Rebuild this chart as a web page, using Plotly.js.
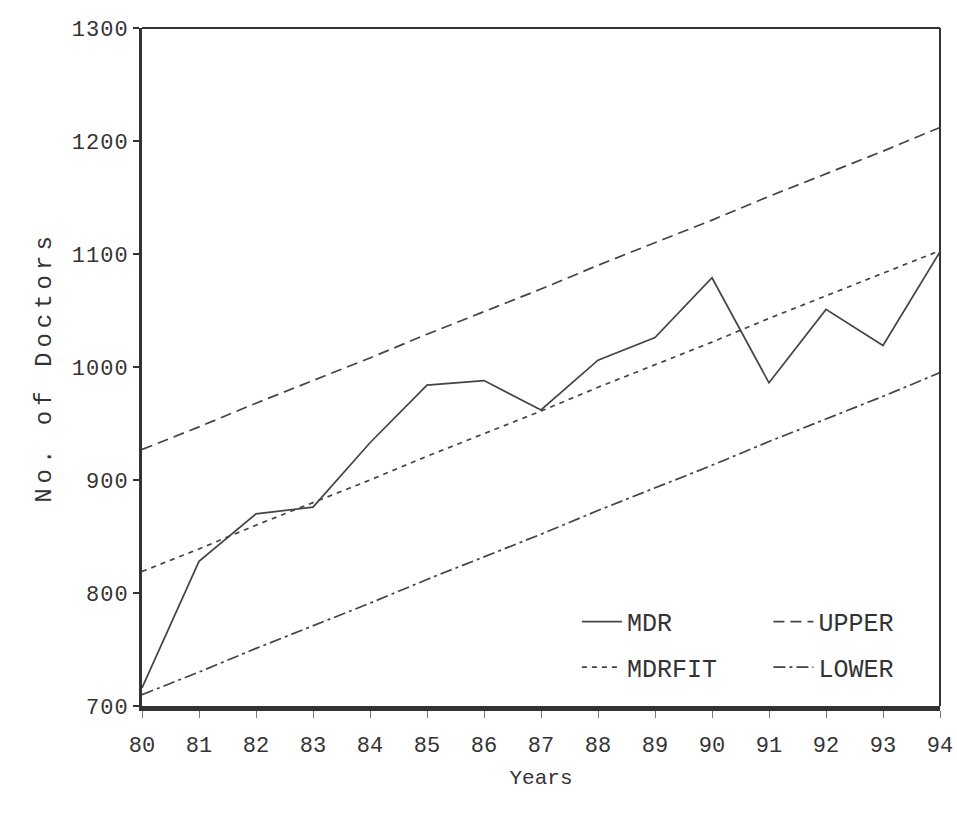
<!DOCTYPE html>
<html>
<head>
<meta charset="utf-8">
<script src="https://cdn.plot.ly/plotly-3.0.1.min.js"></script>
<style>
html,body{margin:0;padding:0;background:#fff;}
#chart{width:957px;height:817px;}
.ytitle{letter-spacing:5px;}
.ytick text{letter-spacing:1px;}
</style>
</head>
<body>
<div id="chart"></div>
<script>
var years = [80, 81, 82, 83, 84, 85, 86, 87, 88, 89, 90, 91, 92, 93, 94];
var mdr    = [716, 828, 870, 876, 933, 984, 988, 962, 1006, 1026, 1079, 986, 1051, 1019, 1102];
var mdrfit = [819, 839, 860, 880, 900, 921, 941, 961, 982, 1002, 1022, 1043, 1063, 1083, 1103];
var upper  = [927, 947, 968, 988, 1008, 1029, 1049, 1069, 1090, 1110, 1130, 1151, 1171, 1191, 1212];
var lower  = [710, 730, 751, 771, 791, 812, 832, 852, 873, 893, 913, 934, 954, 974, 995];
var yTicks = [700, 800, 900, 1000, 1100, 1200, 1300];

var FONT = "Liberation Mono, DejaVu Sans Mono, monospace";
var lineCol = "#444";

var traces = [
  {x: years, y: mdr, name: "MDR", mode: "lines", legend: "legend",
   line: {color: lineCol, width: 1.7, dash: "solid"}},
  {x: years, y: upper, name: "UPPER", mode: "lines", legend: "legend2",
   line: {color: lineCol, width: 1.7, dash: "11px,6px"}},
  {x: years, y: mdrfit, name: "MDRFIT", mode: "lines", legend: "legend3",
   line: {color: lineCol, width: 1.7, dash: "5px,5px"}},
  {x: years, y: lower, name: "LOWER", mode: "lines", legend: "legend4",
   line: {color: lineCol, width: 1.7, dash: "12px,4px,3px,4px"}}
];

function leg(x, y) {
  return {x: x, y: y, xanchor: "left", yanchor: "middle", bgcolor: "rgba(0,0,0,0)",
          font: {family: FONT, size: 25, color: "#333"}, itemwidth: 40};
}

var layout = {
  width: 957, height: 817,
  margin: {l: 142, r: 17, t: 28, b: 111},
  paper_bgcolor: "#fff", plot_bgcolor: "#fff",
  font: {family: FONT, color: "#333"},
  showlegend: true,
  legend: leg(0.545, 0.124),
  legend2: leg(0.785, 0.124),
  legend3: leg(0.545, 0.057),
  legend4: leg(0.785, 0.057),
  xaxis: {
    range: [80, 94], tickvals: years, ticktext: years.map(String),
    showgrid: false, zeroline: false,
    showline: true, linecolor: "#333", linewidth: 5,
    ticks: "outside", ticklen: 7, tickcolor: "#777", tickwidth: 1,
    ticklabelstandoff: 8,
    tickfont: {family: FONT, size: 22, color: "#333"},
    title: {text: "Years", font: {family: FONT, size: 21, color: "#333"}, standoff: 12}
  },
  yaxis: {
    range: [700, 1300], tickvals: yTicks,
    showgrid: false, zeroline: false,
    showline: true, linecolor: "#333", linewidth: 3,
    ticks: "outside", ticklen: 6, tickcolor: "#333", tickwidth: 2,
    tickfont: {family: FONT, size: 22, color: "#333"},
    title: {text: "No. of Doctors", font: {family: FONT, size: 24, color: "#333"}, standoff: 14}
  },
  shapes: [
    {type: "line", xref: "paper", yref: "paper", x0: 0, x1: 1, y0: 1, y1: 1,
     line: {color: "#333", width: 2}},
    {type: "line", xref: "paper", yref: "paper", x0: 1, x1: 1, y0: 0, y1: 1,
     line: {color: "#333", width: 2}}
  ]
};

Plotly.newPlot("chart", traces, layout, {displayModeBar: false, staticPlot: true});
</script>
</body>
</html>
